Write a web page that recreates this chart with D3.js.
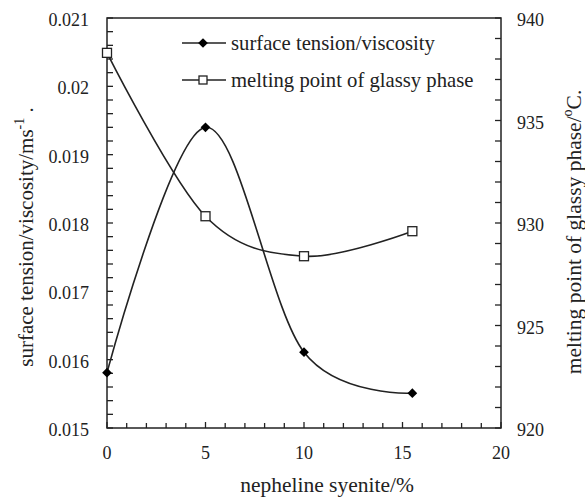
<!DOCTYPE html>
<html><head><meta charset="utf-8">
<script src="https://cdn.jsdelivr.net/npm/d3@7/dist/d3.min.js"></script>
<style>body{margin:0;background:#fff}svg{display:block}svg text{font-family:"Liberation Serif","Times New Roman",serif}</style>
</head><body><svg id="c" width="585" height="497"></svg>
<script>
const xValues = [0, 5, 10, 15.5];
const ratioValues = [0.01581, 0.0194, 0.01611, 0.01551];
const meltValues = [938.3, 930.33, 928.38, 929.6];
const xTicks = [0, 5, 10, 15, 20];
const leftTicks = [0.015, 0.016, 0.017, 0.018, 0.019, 0.02, 0.021];
const leftTickLabels = ["0.015", "0.016", "0.017", "0.018", "0.019", "0.02", "0.021"];
const rightTicks = [920, 925, 930, 935, 940];
const seriesNames = ["surface tension/viscosity", "melting point of glassy phase"];

const svg = d3.select("#c");
const L = 107, R = 501, T = 18, B = 428;
const col = "#222";
const x = d3.scaleLinear().domain([0, 20]).range([L, R]);
const yL = d3.scaleLinear().domain([0.015, 0.021]).range([B, T]);
const yR = d3.scaleLinear().domain([920, 940]).range([B, T]);

const g = svg.append("g").attr("stroke", col).attr("stroke-width", 1.3);
d3.range(0, 20.001, 1).forEach(v => {
  const major = Math.abs(v % 5) < 1e-9;
  g.append("line").attr("x1", x(v)).attr("x2", x(v)).attr("y1", B).attr("y2", B - (major ? 6 : 5));
});
d3.range(0.015, 0.02101, 0.0002).forEach(v => {
  g.append("line").attr("x1", L).attr("x2", L + 6).attr("y1", yL(v)).attr("y2", yL(v));
});
d3.range(920, 940.001, 1).forEach(v => {
  g.append("line").attr("x1", R).attr("x2", R - 6).attr("y1", yR(v)).attr("y2", yR(v));
});
svg.append("rect").attr("x", L).attr("y", T).attr("width", R - L).attr("height", B - T)
  .attr("fill", "none").attr("stroke", col).attr("stroke-width", 1.5);

const tf = () => svg.append("g").attr("fill", col);
tf().selectAll("text").data(xTicks).join("text")
  .attr("x", d => x(d)).attr("y", 459).attr("text-anchor", "middle").attr("font-size", 18).text(d => d);
tf().selectAll("text").data(leftTicks).join("text")
  .attr("x", 89).attr("y", d => yL(d) + 8).attr("text-anchor", "end").attr("font-size", 18).text((d, i) => leftTickLabels[i]);
tf().selectAll("text").data(rightTicks).join("text")
  .attr("x", 517).attr("y", d => yR(d) + 8).attr("text-anchor", "start").attr("font-size", 18).text(d => d);

svg.append("text").attr("fill", col).attr("x", 327).attr("y", 492).attr("text-anchor", "middle").attr("font-size", 21.5).text("nepheline syenite/%");
const lt = svg.append("text").attr("fill", col).attr("transform", "translate(33,237) rotate(-90)").attr("text-anchor", "middle").attr("font-size", 21);
lt.append("tspan").text("surface tension/viscosity/ms");
lt.append("tspan").attr("dy", -9).attr("font-size", 14).text("-1");
lt.append("tspan").attr("dy", 9).text(" .");
const rt = svg.append("text").attr("fill", col).attr("transform", "translate(581,232) rotate(-90)").attr("text-anchor", "middle").attr("font-size", 21.5);
rt.append("tspan").text("melting point of glassy phase/");
rt.append("tspan").attr("dy", -9).attr("font-size", 14).text("o");
rt.append("tspan").attr("dy", 9).text("C.");

const curve = d3.curveCardinal.tension(0);
const lineL = d3.line().x((d, i) => x(xValues[i])).y(d => yL(d)).curve(curve);
const lineR = d3.line().x((d, i) => x(xValues[i])).y(d => yR(d)).curve(curve);
svg.append("path").attr("d", lineL(ratioValues)).attr("fill", "none").attr("stroke", col).attr("stroke-width", 1.6);
svg.append("path").attr("d", lineR(meltValues)).attr("fill", "none").attr("stroke", col).attr("stroke-width", 1.6);

const diamond = d3.symbol().type(d3.symbolDiamond2).size(60);
svg.append("g").selectAll("path").data(ratioValues).join("path")
  .attr("transform", (d, i) => `translate(${x(xValues[i])},${yL(d)})`)
  .attr("d", diamond()).attr("fill", "#000");
svg.append("g").selectAll("rect").data(meltValues).join("rect")
  .attr("x", (d, i) => x(xValues[i]) - 4.5).attr("y", d => yR(d) - 4.5).attr("width", 9).attr("height", 9)
  .attr("fill", "#fff").attr("stroke", col).attr("stroke-width", 1.3);

const leg = svg.append("g");
[43, 80].forEach((yy, i) => {
  leg.append("line").attr("x1", 182).attr("x2", 226).attr("y1", yy).attr("y2", yy).attr("stroke", col).attr("stroke-width", 1.6);
  if (i === 0) leg.append("path").attr("transform", `translate(203,${yy})`).attr("d", diamond()).attr("fill", "#000");
  else leg.append("rect").attr("x", 199).attr("y", yy - 4).attr("width", 8).attr("height", 8).attr("fill", "#fff").attr("stroke", col).attr("stroke-width", 1.3);
  leg.append("text").attr("fill", col).attr("x", 231).attr("y", yy + 6.5).attr("font-size", 20.7).text(seriesNames[i]);
});
</script></body></html>
